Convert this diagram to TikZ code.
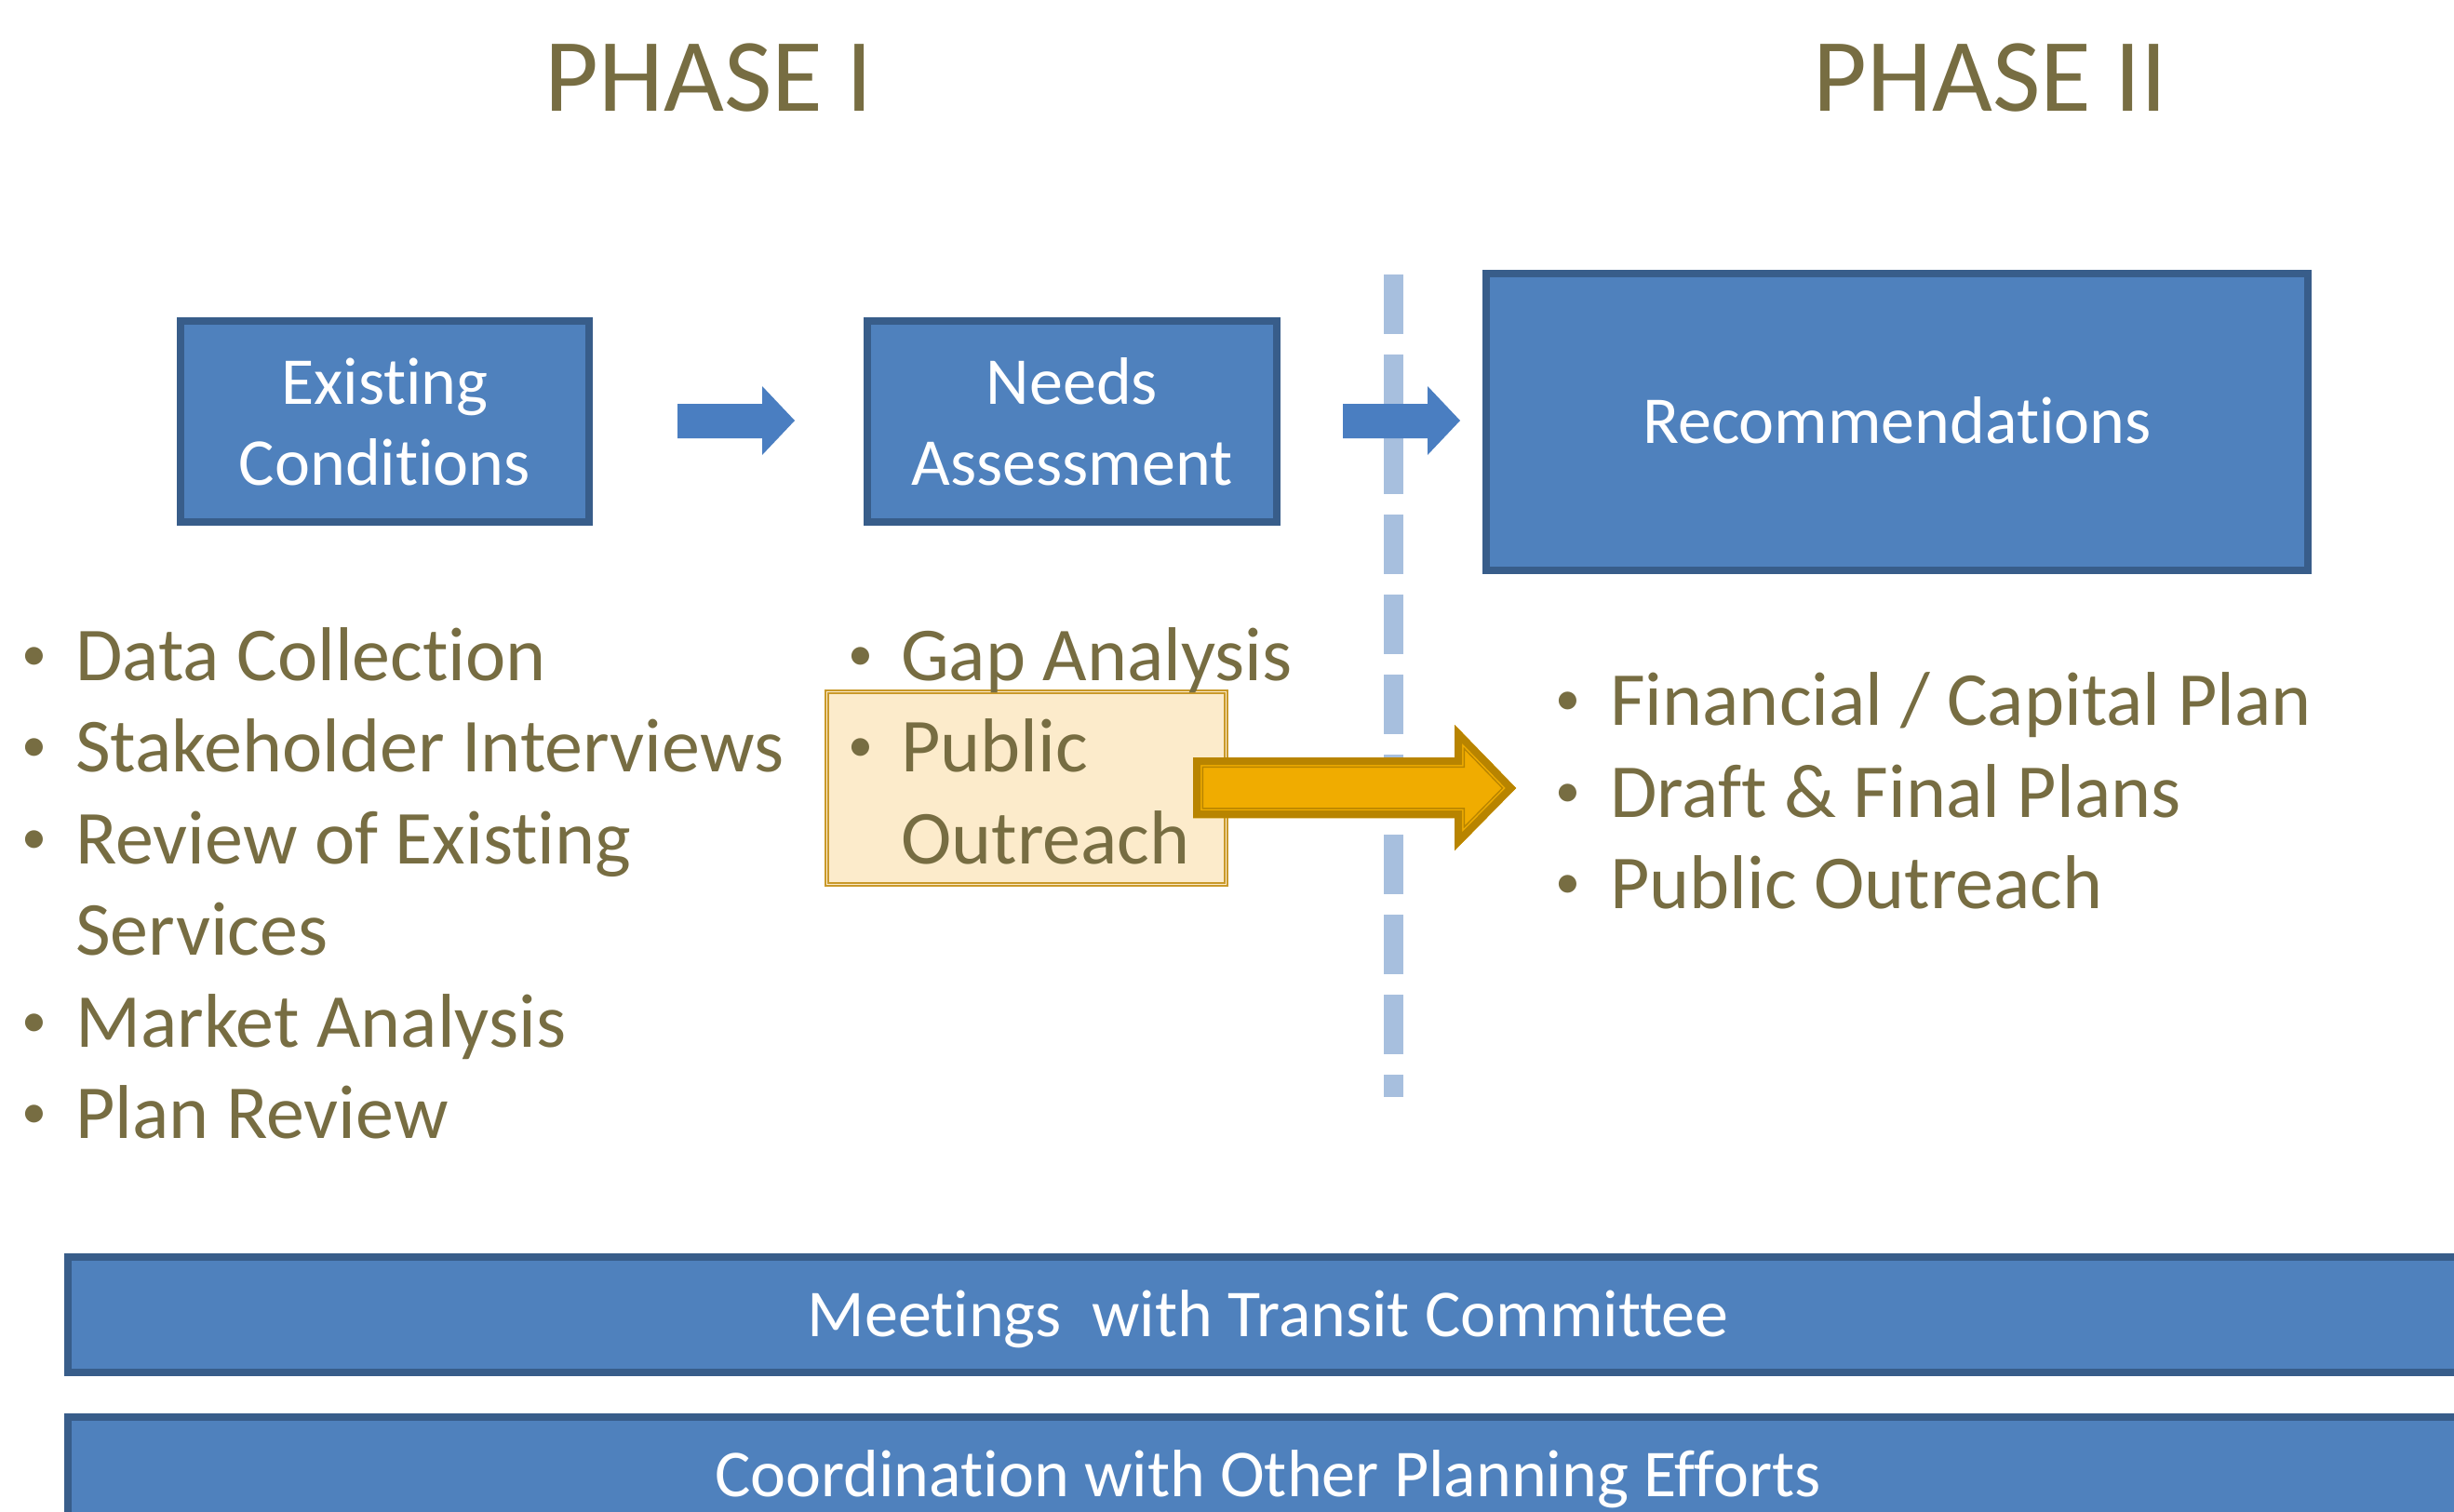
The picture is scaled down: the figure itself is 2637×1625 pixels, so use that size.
\documentclass[tikz,border=0pt]{standalone}
\usepackage{fontspec}
\setmainfont{Carlito}[Ligatures={NoCommon}]
\definecolor{boxfill}{HTML}{4F81BD}
\definecolor{boxline}{HTML}{385D8A}
\definecolor{arrowblue}{HTML}{4A7EC1}
\definecolor{dashblue}{HTML}{A7BFDE}
\definecolor{olive}{HTML}{776D42}
\definecolor{goldD}{HTML}{B88400}
\definecolor{goldF}{HTML}{F0AC00}
\definecolor{cream}{HTML}{FCEBCB}
\definecolor{goldline}{HTML}{C9992A}
\begin{document}
\begin{tikzpicture}[x=1pt,y=-1pt,
  bluebox/.style={draw=boxline, line width=8pt, fill=boxfill, text=white, align=center, inner sep=0pt,
    font=\fontsize{72}{87}\selectfont},
  oneline/.style={text height=46pt, text depth=0pt},
  title/.style={text=olive, anchor=base, inner sep=0pt, font=\fontsize{112}{130}\selectfont},
  item/.style={text=olive, anchor=base west, inner sep=0pt, font=\fontsize{82}{98}\selectfont},
  bul/.style={text=olive, anchor=base, inner sep=0pt, yshift=11pt, font=\fontsize{54}{60}\selectfont},
  blockarrow/.style={fill=arrowblue},
  dashline/.style={draw=dashblue, line width=21pt, dash pattern=on 64pt off 22pt},
  goldbox/.style={draw=goldline, line width=2pt, double=cream, double distance=1.5pt, fill=cream, inner sep=0pt}
]
\fill[white] (0,0) rectangle (2637,1625);
\useasboundingbox (0,0) rectangle (2637,1625);

% titles
\node[title] (t1) at (762,119) {PHASE I};
\node[title] (t2) at (2139,119) {PHASE II};

% dashed divider
\coordinate (dtop) at (1497,295);
\coordinate (dbot) at (1497,1179);
\draw[dashline] (dtop) -- (dbot);

% boxes
\node[bluebox, minimum width=439pt, minimum height=216pt] (ec) at (413.5,453) {Existing\\Conditions};
\node[bluebox, minimum width=440pt, minimum height=216pt] (na) at (1152,453) {Needs\\Assessment};
\node[bluebox, oneline, minimum width=883pt, minimum height=319pt] (rec) at (2038.5,453.5) {Recommendations};

% block arrows
\fill[blockarrow] (728,434) -- (819,434) -- (819,415) -- (854,452) -- (819,489) -- (819,471) -- (728,471) -- cycle;
\fill[blockarrow] (1443,434) -- (1534,434) -- (1534,415) -- (1569,452) -- (1534,489) -- (1534,471) -- (1443,471) -- cycle;

% gold box
\node[goldbox, minimum width=429pt, minimum height=207pt] (po) at (1103,847) {};

% left list
\node[bul] (b1) at (37,731) {•};
\node[item] (l1) at (81,731) {Data Collection};
\node[bul] (b2) at (37,829.5) {•};
\node[item] (l2) at (81,829.5) {Stakeholder Interviews};
\node[bul] (b3) at (37,928) {•};
\node[item] (l3) at (81,928) {Review of Existing};
\node[item] (l3b) at (81,1026.5) {Services};
\node[bul] (b4) at (37,1125) {•};
\node[item] (l4) at (81,1125) {Market Analysis};
\node[bul] (b5) at (37,1223.5) {•};
\node[item] (l5) at (81,1223.5) {Plan Review};

% middle list
\node[bul] (m1b) at (925,731) {•};
\node[item] (m1) at (968,731) {Gap Analysis};
\node[bul] (m2b) at (925,829.5) {•};
\node[item] (m2) at (968,829.5) {Public};
\node[item] (m2c) at (968,928) {Outreach};

% right list
\node[bul] (r1b) at (1685,779) {•};
\node[item] (r1) at (1730,779) {Financial / Capital Plan};
\node[bul] (r2b) at (1685,878) {•};
\node[item] (r2) at (1730,878) {Draft \& Final Plans};
\node[bul] (r3b) at (1685,976) {•};
\node[item] (r3) at (1730,976) {Public Outreach};

% gold arrow
\def\goldarrow{(1282,814) -- (1563,814) -- (1563,779) -- (1629,847) -- (1563,914) -- (1563,879) -- (1282,879) -- cycle}
\fill[goldF] \goldarrow;
\begin{scope}
  \clip \goldarrow;
  \draw[goldD, line width=22pt, miter limit=20] \goldarrow;
  \draw[goldF, line width=19pt, miter limit=20] \goldarrow;
  \draw[goldD, line width=16pt, miter limit=20] \goldarrow;
\end{scope}

% bottom bars
\node[bluebox, oneline, minimum width=2579pt, minimum height=124pt] (mt) at (1362.5,1413) {Meetings\ \ with Transit Committee};
\node[bluebox, oneline, minimum width=2579pt, minimum height=124pt] (co) at (1362.5,1585) {Coordination with Other Planning Efforts};
\end{tikzpicture}
\end{document}
